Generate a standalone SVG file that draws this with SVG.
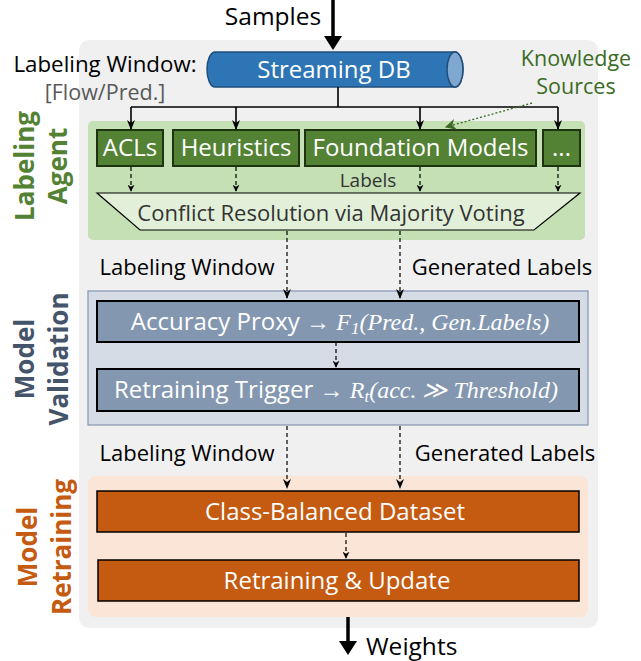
<svg xmlns="http://www.w3.org/2000/svg" width="641" height="661" viewBox="0 0 641 661">
<defs>
<style>
.t{font-family:"Open Sans","Noto Sans",sans-serif}
.w{fill:#fff}
.m{font-family:"Liberation Serif","DejaVu Serif",serif;font-style:italic}
.ln{stroke:#000;stroke-width:1.6;fill:none}
.ds{stroke:#000;stroke-width:1.2;fill:none;stroke-dasharray:4 3}
.gb{fill:#548235;stroke:#1F3310;stroke-width:2}
.vb{fill:#8497B0;stroke:#000;stroke-width:2}
.ob{fill:#C55A11;stroke:#000;stroke-width:1.5}
.sec{font-family:"Open Sans","DejaVu Sans",sans-serif;font-weight:bold;font-size:26px}
</style>
<marker id="ah" viewBox="0 0 10 10" refX="9" refY="5" markerWidth="7" markerHeight="7" orient="auto" markerUnits="userSpaceOnUse">
<path d="M0,0 L10,5 L0,10 L3,5 Z" fill="#000"/>
</marker>
<marker id="ahs" viewBox="0 0 10 10" refX="9" refY="5" markerWidth="10" markerHeight="10" orient="auto" markerUnits="userSpaceOnUse">
<path d="M0,1 L10,5 L0,9 L3,5 Z" fill="#000"/>
</marker>
<marker id="ahg" viewBox="0 0 10 10" refX="9" refY="5" markerWidth="11" markerHeight="11" orient="auto" markerUnits="userSpaceOnUse">
<path d="M0,0 L10,5 L0,10 L3,5 Z" fill="#3B6B25"/>
</marker>
</defs>

<rect id="bg" x="79" y="40" width="519" height="588" rx="10" fill="#F0F0F0"/>

<g id="samples">
<text class="t" x="273" y="25" font-size="24.5" text-anchor="middle" fill="#000">Samples</text>
</g>

<g id="labels-left">
<text class="t" x="105" y="72" font-size="22.3" text-anchor="middle" fill="#000">Labeling Window:</text>
<text class="t" x="105" y="100" font-size="21.5" text-anchor="middle" fill="#595959">[Flow/Pred.]</text>
</g>

<g id="knowledge">
<text class="t" x="576" y="66" font-size="21.5" text-anchor="middle" fill="#3B6B25">Knowledge</text>
<text class="t" x="576" y="94" font-size="21.5" text-anchor="middle" fill="#3B6B25">Sources</text>
</g>

<g id="streaming-db">
<path d="M215,52 L455,52 A8,17.5 0 0 1 455,87 L215,87 A8,17.5 0 0 1 215,52 Z" fill="#2E75B6" stroke="#1F4E79" stroke-width="1.5"/>
<ellipse cx="455" cy="69.5" rx="8" ry="17.5" fill="#7FA7D0" stroke="#1F4E79" stroke-width="1.5"/>
<text class="t w" x="334" y="78" font-size="24" text-anchor="middle">Streaming DB</text>
</g>

<g id="labeling-agent">
<rect x="88" y="121" width="497" height="119" rx="5" fill="#C5E0B4"/>
<text class="sec" transform="translate(34,166) rotate(-90)" text-anchor="middle" fill="#548235">Labeling</text>
<text class="sec" transform="translate(67,166) rotate(-90)" text-anchor="middle" fill="#548235">Agent</text>
</g>

<g id="acls">
<rect class="gb" x="97" y="130" width="66" height="36"/>
<text class="t w" x="130" y="156" font-size="24" text-anchor="middle">ACLs</text>
</g>
<g id="heuristics">
<rect class="gb" x="173" y="130" width="126" height="36"/>
<text class="t w" x="236" y="156" font-size="24" text-anchor="middle">Heuristics</text>
</g>
<g id="foundation">
<rect class="gb" x="305" y="130" width="231" height="36"/>
<text class="t w" x="420.5" y="156" font-size="24" text-anchor="middle">Foundation Models</text>
</g>
<g id="more">
<rect class="gb" x="543" y="130" width="37" height="36"/>
<text class="t w" x="561.5" y="156" font-size="24" text-anchor="middle">...</text>
</g>

<g id="labels-text">
<text class="t" x="368" y="187" font-size="19" text-anchor="middle" fill="#333">Labels</text>
</g>

<g id="voting">
<path d="M97,193 L580,193 L534,230 L140,230 Z" fill="#E2F0D9" stroke="#000" stroke-width="1.2"/>
<text class="t" x="331" y="221" font-size="22" text-anchor="middle" fill="#333">Conflict Resolution via Majority Voting</text>
</g>

<g id="validation-panel">
<rect x="88" y="291" width="500" height="134" fill="#D6DCE5" stroke="#8497B0" stroke-width="1.2"/>
<text class="sec" transform="translate(34,359) rotate(-90)" text-anchor="middle" fill="#44546A">Model</text>
<text class="sec" transform="translate(68,359) rotate(-90)" text-anchor="middle" fill="#44546A">Validation</text>
</g>

<g id="accuracy">
<rect class="vb" x="97" y="301" width="482" height="41"/>
<text x="340" y="330" font-size="24" text-anchor="middle" class="w"><tspan class="t">Accuracy Proxy → </tspan><tspan class="m">F</tspan><tspan class="m" font-style="normal" font-size="17" dy="4">1</tspan><tspan class="m" font-style="normal" dy="-4">(</tspan><tspan class="m">Pred., Gen.Labels</tspan><tspan class="m" font-style="normal">)</tspan></text>
</g>

<g id="trigger">
<rect class="vb" x="97" y="369" width="482" height="42"/>
<text x="336" y="398" font-size="24" text-anchor="middle" class="w"><tspan class="t">Retraining Trigger → </tspan><tspan class="m">R</tspan><tspan class="m" font-size="17" dy="4">t</tspan><tspan class="m" font-style="normal" dy="-4">(</tspan><tspan class="m">acc.</tspan><tspan class="m" font-style="normal"> ≫ </tspan><tspan class="m">Threshold</tspan><tspan class="m" font-style="normal">)</tspan></text>
</g>

<g id="flow-labels">
<text class="t" x="187" y="275" font-size="22" text-anchor="middle" fill="#000">Labeling Window</text>
<text class="t" x="502" y="275" font-size="22" text-anchor="middle" fill="#000">Generated Labels</text>
<text class="t" x="187" y="461" font-size="22" text-anchor="middle" fill="#000">Labeling Window</text>
<text class="t" x="505" y="461" font-size="22" text-anchor="middle" fill="#000">Generated Labels</text>
</g>

<g id="retraining-panel">
<rect x="88" y="476" width="500" height="141" rx="8" fill="#FBE5D6"/>
<text class="sec" transform="translate(37,547) rotate(-90)" text-anchor="middle" fill="#C55A11">Model</text>
<text class="sec" transform="translate(71,547) rotate(-90)" text-anchor="middle" fill="#C55A11">Retraining</text>
</g>

<g id="dataset">
<rect class="ob" x="97" y="491" width="482" height="41"/>
<text class="t w" x="335" y="520" font-size="24" text-anchor="middle">Class-Balanced Dataset</text>
</g>
<g id="update">
<rect class="ob" x="98" y="560" width="481" height="41"/>
<text class="t w" x="337" y="589" font-size="24" text-anchor="middle">Retraining &amp; Update</text>
</g>

<g id="weights">
<text class="t" x="366" y="655" font-size="24.5" fill="#000">Weights</text>
</g>

<g id="connectors">
<line x1="333" y1="0" x2="333" y2="38" stroke="#000" stroke-width="3.5"/>
<path d="M324,36 L333,50 L342,36 Z" fill="#000"/>
<line x1="348" y1="617" x2="348" y2="643" stroke="#000" stroke-width="3.5"/>
<path d="M339,641 L348,655 L357,641 Z" fill="#000"/>

<path class="ln" d="M338,87 V107 M131,107 H558"/>
<line class="ln" x1="131" y1="107" x2="131" y2="129" marker-end="url(#ahs)"/>
<line class="ln" x1="236" y1="107" x2="236" y2="129" marker-end="url(#ahs)"/>
<line class="ln" x1="420" y1="107" x2="420" y2="129" marker-end="url(#ahs)"/>
<line class="ln" x1="558" y1="107" x2="558" y2="129" marker-end="url(#ahs)"/>

<line x1="532" y1="103" x2="446" y2="127" stroke="#3B6B25" stroke-width="1.3" stroke-dasharray="2 2" marker-end="url(#ahg)"/>

<line class="ds" x1="131" y1="167" x2="131" y2="191" marker-end="url(#ah)"/>
<line class="ds" x1="236" y1="167" x2="236" y2="191" marker-end="url(#ah)"/>
<line class="ds" x1="420" y1="167" x2="420" y2="191" marker-end="url(#ah)"/>
<line class="ds" x1="558" y1="167" x2="558" y2="191" marker-end="url(#ah)"/>

<line class="ds" x1="287" y1="231" x2="287" y2="298" marker-end="url(#ahs)"/>
<line class="ds" x1="400" y1="231" x2="400" y2="298" marker-end="url(#ahs)"/>
<line class="ds" x1="336" y1="342" x2="336" y2="367" marker-end="url(#ah)"/>
<line class="ds" x1="287" y1="426" x2="287" y2="488" marker-end="url(#ahs)"/>
<line class="ds" x1="400" y1="426" x2="400" y2="488" marker-end="url(#ahs)"/>
<line class="ds" x1="346" y1="533" x2="346" y2="558" marker-end="url(#ah)"/>
</g>
</svg>
